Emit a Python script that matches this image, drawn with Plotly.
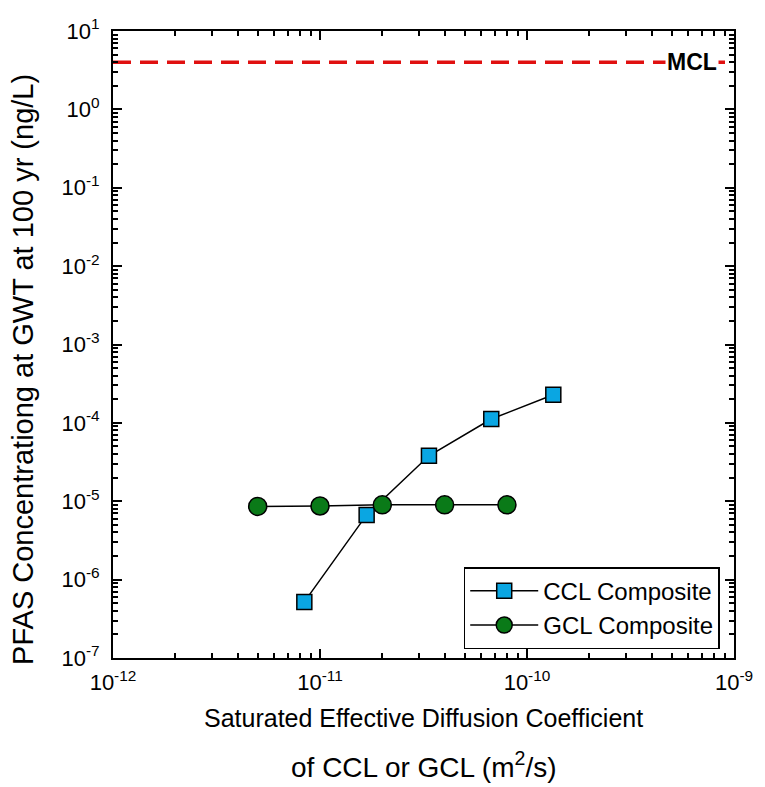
import plotly.graph_objects as go

ccl_x = [8.4e-12, 1.68e-11, 3.36e-11, 6.72e-11, 1.34e-10]
ccl_y = [5.2e-7, 6.7e-6, 3.8e-5, 1.12e-4, 2.28e-4]
gcl_x = [5.0e-12, 1.0e-11, 2.0e-11, 4.0e-11, 8.0e-11]
gcl_y = [8.6e-6, 8.7e-6, 9.0e-6, 9.0e-6, 9.0e-6]
mcl = 4.0

x_tickvals = [1e-12, 1e-11, 1e-10, 1e-9]
x_ticktext = ["10<sup>-12</sup>", "10<sup>-11</sup>", "10<sup>-10</sup>", "10<sup>-9</sup>"]
y_tickvals = [1e-7, 1e-6, 1e-5, 1e-4, 1e-3, 1e-2, 1e-1, 1e0, 1e1]
y_ticktext = ["10<sup>-7</sup>", "10<sup>-6</sup>", "10<sup>-5</sup>", "10<sup>-4</sup>",
              "10<sup>-3</sup>", "10<sup>-2</sup>", "10<sup>-1</sup>", "10<sup>0</sup>", "10<sup>1</sup>"]

FONT = "Liberation Sans, Arial, sans-serif"

fig = go.Figure()
fig.add_trace(go.Scatter(
    x=[1e-12, 1e-9], y=[mcl, mcl], mode="lines",
    line=dict(color="#e01010", width=3.5, dash="18px,9px"), showlegend=False, hoverinfo="skip"))
fig.add_trace(go.Scatter(
    x=ccl_x, y=ccl_y, mode="lines+markers", name="CCL Composite",
    line=dict(color="black", width=1.5),
    marker=dict(symbol="square", size=15, color="#0aa6e2", line=dict(color="black", width=1.5))))
fig.add_trace(go.Scatter(
    x=gcl_x, y=gcl_y, mode="lines+markers", name="GCL Composite",
    line=dict(color="black", width=1.5),
    marker=dict(symbol="circle", size=18, color="#0a7a18", line=dict(color="black", width=1.5))))

axis_common = dict(
    showline=True, linecolor="black", linewidth=2, mirror="allticks",
    ticks="inside", ticklen=9, tickwidth=2, tickcolor="black", showgrid=False, zeroline=False,
    minor=dict(ticks="inside", ticklen=5, tickwidth=1.5, tickcolor="black", dtick="D1", showgrid=False),
    tickfont=dict(size=22, color="black", family=FONT),
)

fig.update_xaxes(type="log", range=[-12, -9], tickvals=x_tickvals, ticktext=x_ticktext,
                 ticklabelstandoff=4, **axis_common)
fig.update_yaxes(type="log", range=[-7, 1], tickvals=y_tickvals, ticktext=y_ticktext,
                 ticklabelstandoff=7, **axis_common)

fig.add_annotation(x=0.932, xref="paper", y=0.602, yref="y", xanchor="center", yanchor="middle",
                   text="<b>MCL</b>", showarrow=False,
                   font=dict(size=23, color="black", family=FONT), bgcolor="white", borderpad=1)
fig.add_annotation(x=-0.145, xref="paper", y=0.461, yref="paper", xanchor="center", yanchor="middle",
                   textangle=-90, text="PFAS Concentrationg at GWT at 100 yr (ng/L)", showarrow=False,
                   font=dict(size=29, color="black", family=FONT))
fig.add_annotation(x=0.5, xref="paper", y=-0.095, yref="paper", xanchor="center", yanchor="middle",
                   text="Saturated Effective Diffusion Coefficient", showarrow=False,
                   font=dict(size=25, color="black", family=FONT))
fig.add_annotation(x=0.5, xref="paper", y=-0.17, yref="paper", xanchor="center", yanchor="middle",
                   text="of CCL or GCL (m<sup>2</sup>/s)", showarrow=False,
                   font=dict(size=28, color="black", family=FONT))

fig.update_layout(
    width=765, height=787,
    margin=dict(l=113, r=25, t=31, b=129),
    paper_bgcolor="white", plot_bgcolor="white",
    font=dict(family=FONT, color="black"),
    legend=dict(x=0.977, y=0.014, xanchor="right", yanchor="bottom",
                bgcolor="white", bordercolor="black", borderwidth=1.5,
                font=dict(size=24, color="black", family=FONT), itemwidth=68),
)

fig.write_html("out.html")
